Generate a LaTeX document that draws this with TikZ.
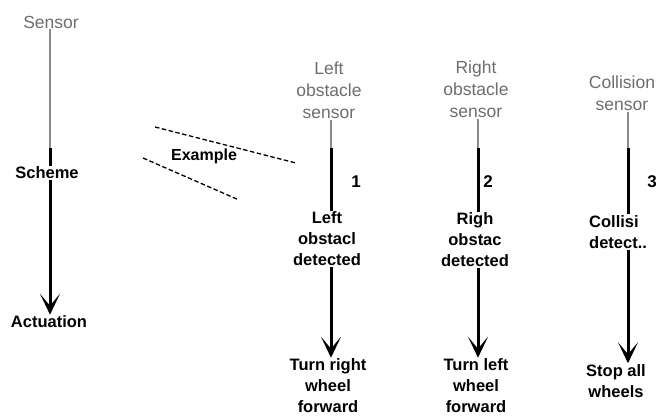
\documentclass[tikz,border=0pt]{standalone}
\usepackage{fontspec}
\setmainfont{Liberation Sans}
\usetikzlibrary{arrows.meta}
\definecolor{labelgray}{HTML}{6E6E6E}
\definecolor{linegray}{HTML}{8A8A8A}

\begin{document}
\begin{tikzpicture}[x=1pt,y=-1pt,
  toplabel/.style={text=labelgray, font=\fontsize{17.5}{22}\selectfont, align=center, inner sep=1pt},
  actlabel/.style={text=black, font=\bfseries\fontsize{16.5}{21}\selectfont, align=center, inner sep=1pt},
  numlabel/.style={text=black, font=\bfseries\fontsize{17}{19}\selectfont, inner sep=0pt},
  sensorline/.style={draw=linegray, line width=2.4pt},
  schemeline/.style={draw=black, line width=3pt},
  actarrow/.style={draw=black, line width=3pt, -{Stealth[length=21pt,width=20pt,inset=12pt]}},
  exline/.style={draw=black, line width=1.3pt, dash pattern=on 4.5pt off 2.5pt}]
\useasboundingbox[fill=white] (0,0) rectangle (658,417);

% x positions of the vertical connectors
\coordinate (x0) at (50,0);
\coordinate (x1) at (331,0);
\coordinate (x2) at (478,0);
\coordinate (x3) at (628,0);

% generic scheme: sensor -> scheme -> actuation
\node[toplabel] (sensor) at (51,22) {Sensor};
\node[actlabel] (scheme) at (47,173) {Scheme};
\node[actlabel] (actuation) at (49,322) {Actuation};
\coordinate (m0) at (50,148);
\draw[sensorline] (sensor.south -| x0) -- (m0);
\draw[schemeline] (m0) -- (scheme.north -| x0);
\draw[actarrow] (scheme.south -| x0) -- (actuation.north -| x0);

% "Example" with its two dashed guide lines
\node[actlabel, font=\bfseries\fontsize{16}{20}\selectfont] (example) at (204,156) {Example};
\coordinate (ea) at (155,127);
\coordinate (eb) at (296,163);
\coordinate (ec) at (143,158);
\coordinate (ed) at (239,200);
\draw[exline] (ea) -- (eb);
\draw[exline] (ec) -- (ed);

% column 1: left obstacle
\node[toplabel] (lsens) at (329,90) {Left\\obstacle\\sensor};
\node[actlabel] (ldet) at (327,239) {Left\\obstacl\\detected};
\node[actlabel] (lact) at (328,386) {Turn right\\wheel\\forward};
\coordinate (m1) at (331,148);
\draw[sensorline] (lsens.south -| x1) -- (m1);
\draw[schemeline] (m1) -- (ldet.north -| x1);
\draw[actarrow] (ldet.south -| x1) -- (lact.north -| x1);
\node[numlabel] (n1) at (356,182) {1};

% column 2: right obstacle
\node[toplabel] (rsens) at (476,89) {Right\\obstacle\\sensor};
\node[actlabel] (rdet) at (475,240) {Righ\\obstac\\detected};
\node[actlabel] (ract) at (476,386) {Turn left\\wheel\\forward};
\coordinate (m2) at (478,148);
\draw[sensorline] (rsens.south -| x2) -- (m2);
\draw[schemeline] (m2) -- (rdet.north -| x2);
\draw[actarrow] (rdet.south -| x2) -- (ract.north -| x2);
\node[numlabel] (n2) at (488,182) {2};

% column 3: collision
\node[toplabel] (csens) at (622,93) {Collision\\sensor};
\node[actlabel, align=left, anchor=west] (cdet) at (588,232) {Collisi\\detect..};
\node[actlabel] (cact) at (616,381) {Stop all\\wheels};
\coordinate (m3) at (628,148);
\draw[sensorline] (csens.south -| x3) -- (m3);
\draw[schemeline] (m3) -- (cdet.north -| x3);
\draw[actarrow] (cdet.south -| x3) -- (cact.north -| x3);
\node[numlabel] (n3) at (652,182) {3};
\end{tikzpicture}
\end{document}
